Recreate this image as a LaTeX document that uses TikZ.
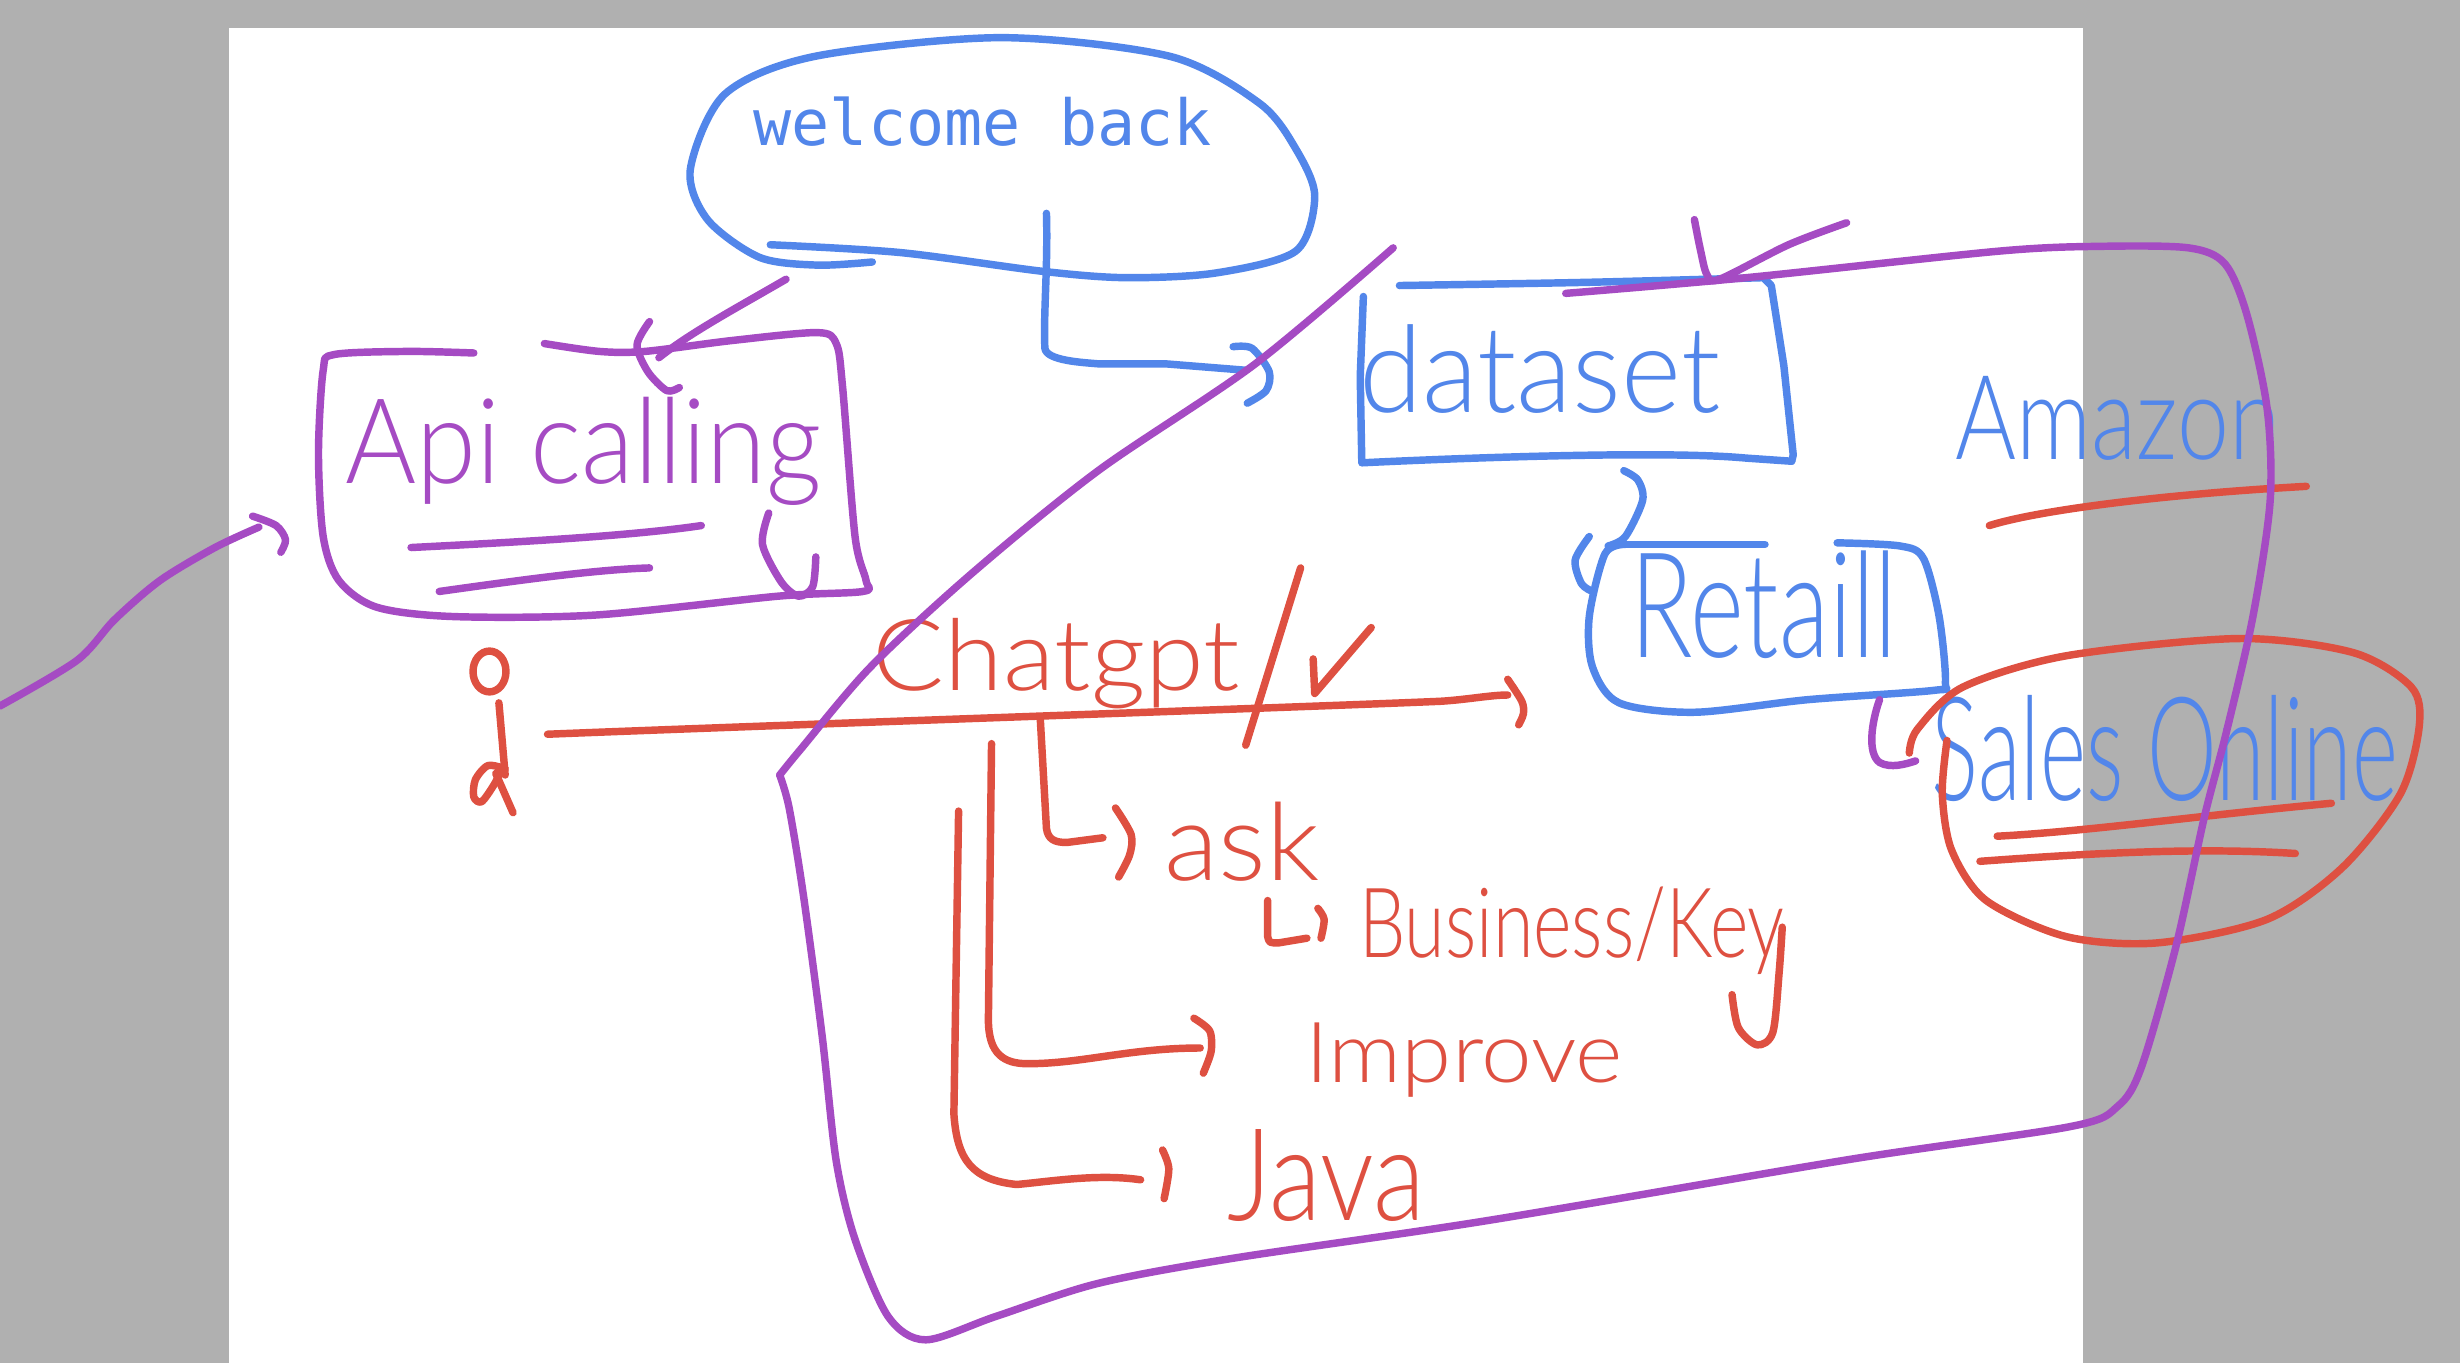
\documentclass[tikz,border=0pt]{standalone}
\usepackage{fontspec}
\usepackage{graphicx}
\setmonofont{DejaVu Sans Mono}
\newfontfamily\handfont{Lato Light}
\definecolor{penblue}{HTML}{5286EA}
\definecolor{penpurple}{HTML}{A54BC3}
\definecolor{penred}{HTML}{DE5041}
\definecolor{sheetgray}{HTML}{B0B0B0}
\newcommand{\fitto}[3]{\resizebox{#1}{#2}{#3}}
\def\dblue{\draw[penblue,penline]}
\def\dpurple{\draw[penpurple,penline]}
\def\dred{\draw[penred,penline]}

\begin{document}
\begin{tikzpicture}[x=0.2mm,y=-0.2mm,
    penline/.style={line width=0.95mm,line cap=round,line join=round},
    txt/.style={inner sep=0pt,anchor=base west}]
\useasboundingbox (0,0) rectangle (1568,869);
\fill[sheetgray] (0,0) rectangle (1568,869);
\fill[white] (146,18) rectangle (1328,869);

\node[txt,text=penblue] (welcome) at (480,93) {\fitto{58.4mm}{6.2mm}{\ttfamily welcome back}};
\node[txt,text=penpurple] (api) at (220,308) {\fitto{60.6mm}{11mm}{\handfont Api calling}};
\node[txt,text=penblue] (dataset) at (866,263) {\fitto{46mm}{11.2mm}{\handfont dataset}};
\node[txt,text=penblue] (retail) at (1039,419) {\fitto{34mm}{13.6mm}{\handfont Retaill}};
\node[txt,text=penblue] (amazon) at (1246,293) {\fitto{41.4mm}{10.6mm}{\handfont Amazon}};
\node[txt,text=penblue] (sales) at (1231,510) {\fitto{59.4mm}{13.4mm}{\handfont Sales Online}};
\node[txt,text=penred] (chatgpt) at (556,440) {\fitto{46.8mm}{9.2mm}{\handfont Chatgpt}};
\node[txt,text=penred] (ask) at (742,561) {\fitto{19.8mm}{10mm}{\handfont ask}};
\node[txt,text=penred] (business) at (866,610) {\fitto{54.2mm}{9mm}{\handfont Business/Key}};
\node[txt,text=penred] (improve) at (832,690) {\fitto{40.4mm}{7.6mm}{\handfont Improve}};
\node[txt,text=penred] (java) at (782,778) {\fitto{25.2mm}{11.6mm}{\handfont Java}};

\coordinate (welcome-out) at (667,136);
\coordinate (dataset-in) at (794,236);
\coordinate (welcome-tail) at (501,178);
\coordinate (api-in) at (420,228);
\coordinate (left-edge) at (0,450);
\coordinate (api-left) at (165,336);
\coordinate (user-out) at (349,468);
\coordinate (chat-end) at (961,443);
\coordinate (dataset-out) at (1035,300);
\coordinate (retail-out) at (1198,446);
\coordinate (sales-in) at (1221,485);

\dblue plot[smooth] coordinates {(491,156) (574,161) (665,173) (718,177) (775,174) (826,160) (838,125) (826,95) (803,66) (746,36) (638,24) (519,36) (462,60) (440,108) (451,140) (484,164) (521,169) (556,167)};
\dblue (welcome-out) .. controls (668,170) and (665,200) .. (666,222) .. controls (667,230) and (690,231) .. (701,232) -- (744,232) -- (dataset-in);
\dblue plot[smooth] coordinates {(786,221) (798,222) (809,237) (807,249) (795,257)};

\dpurple (welcome-tail) .. controls (470,196) and (440,212) .. (api-in);
\dpurple plot[smooth] coordinates {(414,205) (406,220) (413,237) (425,249) (433,247)};
\dpurple plot[smooth] coordinates {(302,225) (260,224) (213,226) (206,236) (203,289) (206,342) (216,370) (240,387) (289,393) (380,392) (496,380) (550,377) (552,370) (545,342) (537,246) (533,219) (521,212) (467,217) (411,224) (382,224) (347,219)};
\dpurple (262,349) .. controls (320,346) and (400,342) .. (447,335);
\dpurple (280,377) .. controls (330,370) and (380,363) .. (414,362);
\dpurple plot[smooth] coordinates {(490,327) (486,347) (498,371) (509,380) (518,374) (520,355)};
\dpurple plot[smooth] coordinates {(left-edge) (49,421) (73,395) (102,370) (137,349) (api-left)};
\dpurple plot[smooth] coordinates {(161,329) (176,335) (182,344) (179,352)};

\draw[penred,penline] (312,428) ellipse [x radius=2.1mm,y radius=2.6mm];
\dred (318,448) -- (322,494);
\dred plot[smooth] coordinates {(322,490) (311,488) (303,497) (302,508) (307,511) (315,500) (320,490)};
\dred (316,493) -- (327,518);

\dred (user-out) .. controls (500,462) and (850,450) .. (918,447) .. controls (935,446) and (950,443) .. (chat-end);
\dred plot[smooth] coordinates {(961,433) (970,447) (971,455) (968,462)};
\dred (829,362) -- (794,475);
\dred (837,420) -- (838,442) -- (874,400);

\dred (663,457) -- (667,528) .. controls (668,535) and (672,537) .. (680,537) -- (703,534);
\dred plot[smooth] coordinates {(711,515) (721,532) (720,545) (713,559)};
\dred (808,574) -- (808,597) .. controls (809,601) .. (815,601) -- (833,598);
\dred plot[smooth] coordinates {(840,579) (844,586) (842,598)};
\dred plot[smooth] coordinates {(1104,634) (1108,655) (1120,666) (1130,658) (1134,620) (1136,591)};
\dred (632,474) -- (630,650) .. controls (630,672) and (640,678) .. (655,678) .. controls (690,678) and (720,668) .. (765,668);
\dred plot[smooth] coordinates {(761,649) (771,657) (772,670) (767,684)};
\dred (611,517) -- (608,710) .. controls (610,740) and (620,752) .. (648,755) .. controls (670,753) and (700,748) .. (727,752);
\dred plot[smooth] coordinates {(741,733) (745,745) (742,764)};

\dblue plot[smooth] coordinates {(892,182) (1010,180) (1124,177)} -- (1129,182) -- (1137,233) -- (1143,290) -- (1142,294);
\dblue (869,189) -- (867,240) -- (868,295) .. controls (930,292) and (1060,287) .. (1113,292) -- (1142,294);
\dblue plot[smooth] coordinates {(dataset-out) (1044,306) (1047,319) (1036,342) (1025,348)};
\dblue plot[smooth] coordinates {(1013,342) (1004,357) (1008,372) (1015,377)};
\dblue (1036,347) -- (1125,347);
\dblue plot[smooth] coordinates {(1171,346) (1211,348) (1226,356) (1236,393) (1240,435) (1233,440) (1152,446) (1080,454) (1032,448) (1015,425) (1013,393) (1023,353) (1036,347)};

\dpurple (retail-out) .. controls (1193,460) and (1190,480) .. (1198,486) .. controls (1205,490) and (1215,487) .. (sales-in);
\dred plot[smooth] coordinates {(1217,480) (1222,465) (1251,438) (1317,418) (1427,407) (1500,416) (1537,438) (1542,463) (1530,506) (1493,553) (1445,586) (1375,601) (1317,597) (1266,574) (1244,542) (1238,506) (1241,472)};
\dred (1273,533) .. controls (1330,530) and (1400,520) .. (1486,512);
\dred (1262,549) .. controls (1330,544) and (1400,540) .. (1463,544);
\dred (1268,335) .. controls (1300,325) and (1380,315) .. (1470,310);

\dpurple plot[smooth] coordinates {(888,158) (800,232) (700,300) (620,365) (555,425) (510,478) (497,494)};
\dpurple plot[smooth] coordinates {(497,494) (503,515) (512,570) (524,660) (533,740) (545,790) (566,839) (590,854) (635,839) (700,818) (786,802) (948,778) (1179,739) (1320,718) (1350,705) (1365,680) (1387,603) (1405,521) (1419,467) (1436,393) (1447,319) (1445,260) (1432,200) (1418,168) (1395,158) (1340,157) (1275,160) (1113,177) (998,187)};
\dpurple plot[smooth] coordinates {(1080,140) (1084,160) (1088,175) (1096,178) (1140,156) (1177,142)};
\end{tikzpicture}
\end{document}
